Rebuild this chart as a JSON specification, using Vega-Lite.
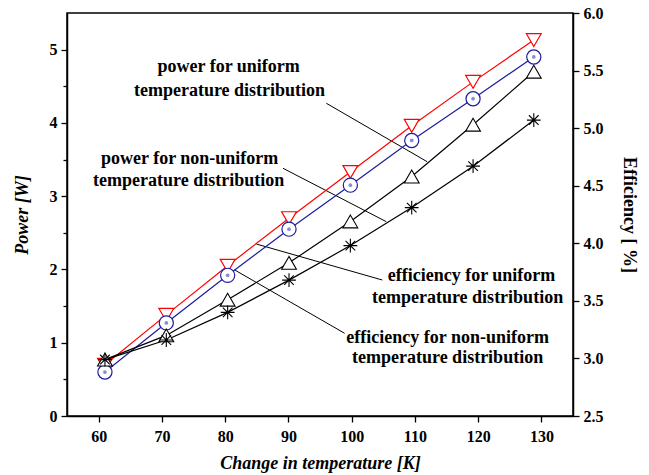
{
  "$schema": "https://vega.github.io/schema/vega-lite/v6.json",
  "width": 506,
  "height": 403,
  "autosize": "none",
  "padding": {"left": 67, "top": 13, "right": 76, "bottom": 59},
  "background": "white",
  "config": {
    "view": {"stroke": "black", "strokeWidth": 1.5},
    "axis": {
      "labelFont": "Liberation Serif",
      "labelFontWeight": "bold",
      "labelFontSize": 16,
      "labelColor": "black",
      "titleFont": "Liberation Serif",
      "titleFontWeight": "bold",
      "titleFontSize": 18,
      "titleColor": "black",
      "domainColor": "black",
      "domainWidth": 1.5,
      "tickColor": "black",
      "tickWidth": 1.3,
      "grid": false
    }
  },
  "datasets": {
    "pts": [
      {"T": 61.0, "Pu": 0.70, "Pn": 0.60, "Eu": 2.99, "En": 2.99},
      {"T": 70.7, "Pu": 1.38, "Pn": 1.27, "Eu": 3.20, "En": 3.16},
      {"T": 80.4, "Pu": 2.05, "Pn": 1.92, "Eu": 3.51, "En": 3.40},
      {"T": 90.1, "Pu": 2.70, "Pn": 2.55, "Eu": 3.83, "En": 3.68},
      {"T": 99.8, "Pu": 3.33, "Pn": 3.15, "Eu": 4.19, "En": 3.98},
      {"T": 109.5, "Pu": 3.96, "Pn": 3.76, "Eu": 4.58, "En": 4.31},
      {"T": 119.2, "Pu": 4.56, "Pn": 4.33, "Eu": 5.03, "En": 4.67},
      {"T": 128.8, "Pu": 5.13, "Pn": 4.90, "Eu": 5.49, "En": 5.07}
    ],
    "leaders": [
      {"x": 96.0, "y": 4.268, "x2": 111.93, "y2": 3.471},
      {"x": 89.14, "y": 3.381, "x2": 105.48, "y2": 2.652},
      {"x": 84.94, "y": 2.347, "x2": 104.85, "y2": 1.856},
      {"x": 81.51, "y": 1.993, "x2": 98.89, "y2": 1.129}
    ],
    "notes": [
      {"x": 80.56, "y": 4.763, "label": "power for uniform"},
      {"x": 80.7, "y": 4.436, "label": "temperature distribution"},
      {"x": 74.39, "y": 3.508, "label": "power for non-uniform"},
      {"x": 74.24, "y": 3.207, "label": "temperature distribution"},
      {"x": 118.96, "y": 1.911, "label": "efficiency for uniform"},
      {"x": 118.33, "y": 1.617, "label": "temperature distribution"},
      {"x": 115.17, "y": 1.071, "label": "efficiency for non-uniform"},
      {"x": 115.17, "y": 0.785, "label": "temperature distribution"}
    ]
  },
  "layer": [
    {
      "layer": [
        {
          "data": {"name": "leaders"},
          "mark": {"type": "rule", "color": "black", "strokeWidth": 1},
          "encoding": {
            "x": {
              "field": "x", "type": "quantitative",
              "scale": {"domain": [55, 135], "nice": false, "zero": false},
              "axis": {
                "orient": "bottom",
                "title": "Change in temperature [K]",
                "titleFontStyle": "italic",
                "titleY": 47,
                "titleBaseline": "middle",
                "values": [60, 70, 80, 90, 100, 110, 120, 130],
                "format": "d",
                "tickSize": 6,
                "labelPadding": 6,
                "labelFlush": false,
                "labelOverlap": false
              }
            },
            "y": {
              "field": "y", "type": "quantitative",
              "scale": {"domain": [0, 5.5], "nice": false, "zero": false},
              "axis": {
                "orient": "left",
                "title": "Power [W]",
                "titleFontStyle": "italic",
                "titleX": -45,
                "titleBaseline": "middle",
                "values": [0, 0.5, 1, 1.5, 2, 2.5, 3, 3.5, 4, 4.5, 5],
                "labelExpr": "datum.value % 1 === 0 ? format(datum.value, 'd') : ''",
                "tickSize": {"condition": {"test": "datum.value % 1 === 0", "value": 6}, "value": 4},
                "labelPadding": 4,
                "labelFlush": false,
                "labelOverlap": false
              }
            },
            "x2": {"field": "x2"},
            "y2": {"field": "y2"}
          }
        },
        {
          "data": {"name": "notes"},
          "mark": {"type": "text", "font": "Liberation Serif", "fontWeight": "bold", "fontSize": 18, "align": "center", "baseline": "middle", "color": "black"},
          "encoding": {
            "x": {"field": "x", "type": "quantitative"},
            "y": {"field": "y", "type": "quantitative"},
            "text": {"field": "label"}
          }
        },
        {
          "data": {"name": "pts"},
          "mark": {"type": "line", "color": "#ff0000", "strokeWidth": 1.2},
          "encoding": {
            "x": {"field": "T", "type": "quantitative"},
            "y": {"field": "Pu", "type": "quantitative"}
          }
        },
        {
          "data": {"name": "pts"},
          "mark": {"type": "line", "color": "#1c1ca0", "strokeWidth": 1.2},
          "encoding": {
            "x": {"field": "T", "type": "quantitative"},
            "y": {"field": "Pn", "type": "quantitative"}
          }
        },
        {
          "data": {"name": "pts"},
          "mark": {"type": "point", "shape": "triangle-down", "size": 220, "filled": false, "fill": "white", "fillOpacity": 1, "stroke": "#ff0000", "strokeWidth": 1.2, "opacity": 1},
          "encoding": {
            "x": {"field": "T", "type": "quantitative"},
            "y": {"field": "Pu", "type": "quantitative"}
          }
        },
        {
          "data": {"name": "pts"},
          "mark": {"type": "point", "shape": "circle", "size": 200, "filled": false, "fill": "white", "fillOpacity": 1, "stroke": "#1c1ca0", "strokeWidth": 1.2, "opacity": 1},
          "encoding": {
            "x": {"field": "T", "type": "quantitative"},
            "y": {"field": "Pn", "type": "quantitative"}
          }
        },
        {
          "data": {"name": "pts"},
          "mark": {"type": "point", "shape": "circle", "size": 14, "filled": true, "color": "#8c8cd0", "opacity": 1},
          "encoding": {
            "x": {"field": "T", "type": "quantitative"},
            "y": {"field": "Pn", "type": "quantitative"}
          }
        }
      ]
    },
    {
      "layer": [
        {
          "data": {"name": "pts"},
          "mark": {"type": "line", "color": "black", "strokeWidth": 1.2},
          "encoding": {
            "x": {"field": "T", "type": "quantitative"},
            "y": {
              "field": "Eu", "type": "quantitative",
              "scale": {"domain": [2.5, 6.0], "nice": false, "zero": false},
              "axis": {
                "orient": "right",
                "title": "Efficiency [ %]",
                "titleAngle": 90,
                "titleX": 55,
                "titleBaseline": "middle",
                "values": [2.5, 2.75, 3.0, 3.25, 3.5, 3.75, 4.0, 4.25, 4.5, 4.75, 5.0, 5.25, 5.5, 5.75, 6.0],
                "labelExpr": "abs(datum.value * 2 - round(datum.value * 2)) < 0.001 ? format(datum.value, '.1f') : ''",
                "tickSize": {"condition": {"test": "abs(datum.value * 2 - round(datum.value * 2)) < 0.001", "value": 6}, "value": 4},
                "labelPadding": 4,
                "labelFlush": false,
                "labelOverlap": false
              }
            }
          }
        },
        {
          "data": {"name": "pts"},
          "mark": {"type": "line", "color": "black", "strokeWidth": 1.2},
          "encoding": {
            "x": {"field": "T", "type": "quantitative"},
            "y": {"field": "En", "type": "quantitative"}
          }
        },
        {
          "data": {"name": "pts"},
          "mark": {"type": "point", "shape": "triangle-up", "size": 220, "filled": false, "fill": "white", "fillOpacity": 1, "stroke": "black", "strokeWidth": 1.1, "opacity": 1},
          "encoding": {
            "x": {"field": "T", "type": "quantitative"},
            "y": {"field": "Eu", "type": "quantitative"}
          }
        },
        {
          "data": {"name": "pts"},
          "mark": {"type": "point", "shape": "M-1,0L1,0M0,-1L0,1M-0.7,-0.7L0.7,0.7M-0.7,0.7L0.7,-0.7", "size": 190, "filled": false, "stroke": "black", "strokeWidth": 1.1, "opacity": 1},
          "encoding": {
            "x": {"field": "T", "type": "quantitative"},
            "y": {"field": "En", "type": "quantitative"}
          }
        }
      ]
    }
  ],
  "resolve": {"scale": {"y": "independent"}}
}
